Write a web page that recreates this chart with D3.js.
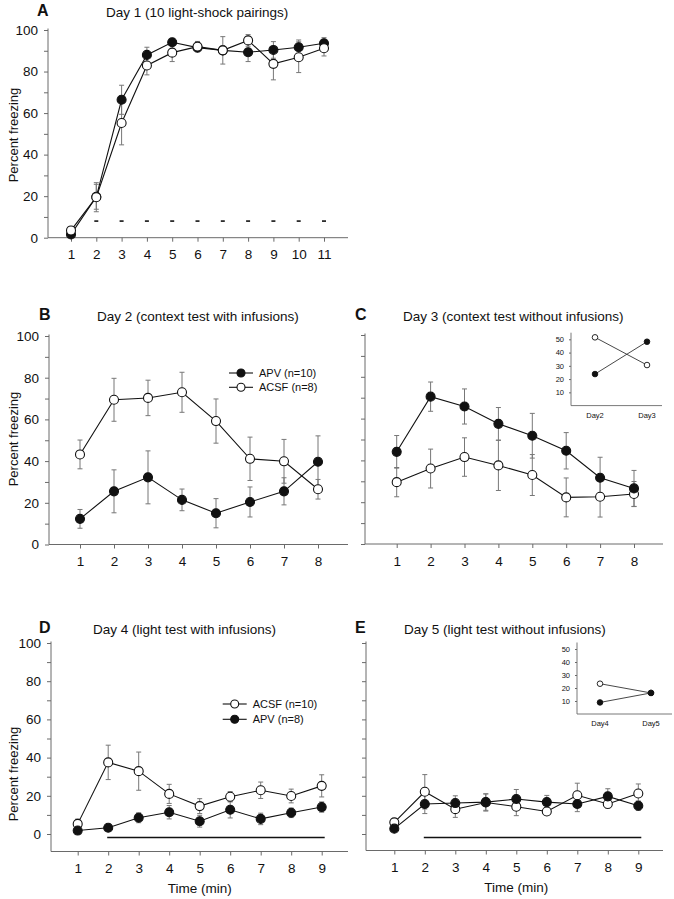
<!DOCTYPE html>
<html><head><meta charset="utf-8">
<script src="https://cdn.jsdelivr.net/npm/d3@7"></script>
<style>body{margin:0;background:#fff}</style>
</head><body><svg id="c" width="674" height="899"></svg>
<script>
// ---------- DATA ----------
const trialsA = [1,2,3,4,5,6,7,8,9,10,11];
const apvA = [1.6, 19.7, 66.4, 88, 94.1, 91.5, 90.2, 89.3, 90.4, 91.7, 93.6];
const apvAErr = [1, 6, 7, 3.7, 1.5, 1.5, 2, 4.5, 4, 3.5, 2.7];
const acsfA = [3.5, 19.5, 55.2, 82.9, 89.1, 92, 90.2, 95, 83.7, 86.9, 91.2];
const acsfAErr = [1.5, 7, 10.5, 4.5, 4.3, 2.5, 6.6, 2.8, 7.7, 7.4, 3.7];
const shockTrials = [2,3,4,5,6,7,8,9,10,11];
const shockLevel = 8;

const minutesBC = [1,2,3,4,5,6,7,8];
const apvB = [12.3, 25.5, 32.2, 21.4, 15, 20.4, 25.5, 39.7];
const apvBErr = [4.5, 10.3, 12.7, 5.2, 7, 7.2, 6.5, 12.4];
const acsfB = [43.2, 69.4, 70.3, 73, 59.2, 41.1, 39.9, 26.5];
const acsfBErr = [6.9, 10.3, 8.5, 9.6, 10.6, 10.4, 10.5, 4.7];

const apvC = [44.1, 70.5, 65.8, 57.5, 51.8, 44.6, 31.7, 26.6];
const apvCErr = [7.8, 7, 8.4, 7.8, 10.7, 8.7, 9.8, 8.6];
const acsfC = [29.6, 36.1, 41.6, 37.6, 33, 22.3, 22.6, 23.9];
const acsfCErr = [7, 9.3, 9.2, 12, 9.8, 9.3, 9.7, 6];

const insetCDays = ["Day2", "Day3"];
const insetCApv = [23.8, 48.2];
const insetCAcsf = [51.5, 30.6];

const minutesDE = [1,2,3,4,5,6,7,8,9];
const acsfD = [5.3, 37.5, 32.9, 21, 14.6, 19.5, 22.9, 19.9, 25.2];
const acsfDErr = [2.5, 9, 10, 5, 3.9, 2.7, 4.3, 3.6, 5.8];
const apvD = [1.8, 3.3, 8.5, 11.4, 6.7, 12.7, 7.9, 11.1, 14.1];
const apvDErr = [1, 1, 2.6, 3.5, 3.1, 4.3, 3, 2.5, 2.7];

const apvE = [2.8, 15.7, 16.2, 16.7, 18.3, 16.7, 15.7, 19.7, 14.8];
const apvEErr = [1, 5, 3.8, 4.3, 5, 3.5, 4, 4, 2.5];
const acsfE = [6.1, 22.1, 13, 16.5, 14.3, 11.8, 20.3, 15.7, 21.2];
const acsfEErr = [1.7, 9, 4.3, 4.5, 4.7, 2, 6.3, 2.3, 5];

const insetEDays = ["Day4", "Day5"];
const insetEApv = [8.9, 16.2];
const insetEAcsf = [23.3, 16.2];

const lightBar = [2, 9]; // light on period (min)
const lightLevel = -1.8;

const yTickValues = [0,10,20,30,40,50,60,70,80,90,100];
const insetTicks = [10,20,30,40,50];

// ---------- DRAW ----------
const FONT = '"Liberation Sans", Arial, Helvetica, sans-serif';
const AX = "#6a6a6a", ERR = "#777", INK = "#111";
const svg = d3.select("#c").attr("font-family", FONT);

function drawPanel(p) {
  const g = svg.append("g");
  const x = d3.scaleLinear().domain([1, p.xs.length]).range([p.xFirst, p.xLast]);
  const y = d3.scaleLinear().domain([0, 100]).range([p.y0, p.y100]);

  g.append("line").attr("x1", p.axX).attr("x2", p.axX).attr("y1", p.axY).attr("y2", p.y100 - 1.5)
    .attr("stroke", AX).attr("stroke-width", 1);
  g.append("line").attr("x1", p.axX).attr("x2", p.xEnd).attr("y1", p.axY).attr("y2", p.axY)
    .attr("stroke", AX).attr("stroke-width", 1);

  const ya = g.append("g").attr("transform", `translate(${p.axX},0)`)
    .call(d3.axisLeft(y).tickValues(yTickValues).tickSize(4).tickPadding(6)
      .tickFormat(d => p.yLabels && d % 20 === 0 ? d : ""));
  ya.select(".domain").remove();
  ya.attr("font-family", FONT).attr("font-size", 13.5);
  ya.selectAll("line").attr("stroke", AX);
  ya.selectAll("text").attr("fill", INK);

  const xa = g.append("g").attr("transform", `translate(0,${p.axY})`)
    .call(d3.axisBottom(x).tickValues(p.xs).tickSize(4).tickPadding(8).tickFormat(d3.format("d")));
  xa.select(".domain").remove();
  xa.attr("font-family", FONT).attr("font-size", 13.5);
  xa.selectAll("line").attr("stroke", AX);
  xa.selectAll("text").attr("fill", INK);

  g.append("text").attr("x", p.letterX).attr("y", p.titleY - 1).text(p.letter)
    .attr("font-weight", "bold").attr("font-size", 16).attr("fill", INK);
  g.append("text").attr("x", p.titleX).attr("y", p.titleY).text(p.title)
    .attr("font-size", 13.5).attr("fill", INK);
  if (p.yTitle) {
    g.append("text").attr("transform", `translate(18,${p.yTitleY}) rotate(-90)`)
      .attr("text-anchor", "middle").attr("font-size", 13).attr("fill", INK).text("Percent freezing");
  }
  if (p.xTitle) {
    g.append("text").attr("x", x((1 + p.xs.length) / 2)).attr("y", p.axY + 41)
      .attr("text-anchor", "middle").attr("font-size", 13.5).attr("fill", INK).text("Time (min)");
  }

  if (p.dashes) {
    g.selectAll(".dash").data(p.dashes.xs).join("line")
      .attr("x1", d => x(d) - 2).attr("x2", d => x(d) + 2)
      .attr("y1", y(p.dashes.level)).attr("y2", y(p.dashes.level))
      .attr("stroke", INK).attr("stroke-width", 1.6);
  }
  if (p.bar) {
    g.append("line").attr("x1", x(p.bar.from) - 1).attr("x2", x(p.bar.to) + 3)
      .attr("y1", y(p.bar.level)).attr("y2", y(p.bar.level))
      .attr("stroke", INK).attr("stroke-width", 1.5);
  }

  const line = d3.line().x((d, i) => x(p.xs[i])).y(d => y(d));
  p.series.forEach(s => {
    const eg = g.append("g");
    s.values.forEach((v, i) => {
      const cx = x(p.xs[i]), lo = y(v - s.err[i]), hi = y(v + s.err[i]);
      eg.append("line").attr("x1", cx).attr("x2", cx).attr("y1", lo).attr("y2", hi).attr("stroke", ERR);
      eg.append("line").attr("x1", cx - 2.5).attr("x2", cx + 2.5).attr("y1", lo).attr("y2", lo).attr("stroke", ERR);
      eg.append("line").attr("x1", cx - 2.5).attr("x2", cx + 2.5).attr("y1", hi).attr("y2", hi).attr("stroke", ERR);
    });
  });
  p.series.forEach(s => {
    g.append("path").attr("d", line(s.values)).attr("fill", "none").attr("stroke", INK).attr("stroke-width", 1.1);
  });
  p.series.forEach(s => {
    g.selectAll(null).data(s.values).join("circle")
      .attr("cx", (d, i) => x(p.xs[i])).attr("cy", d => y(d)).attr("r", 4.5)
      .attr("fill", s.filled ? INK : "#fff").attr("stroke", INK).attr("stroke-width", 1.1);
  });

  if (p.legend) {
    p.legend.items.forEach((it, k) => {
      const ly = p.legend.y + k * p.legend.dy;
      g.append("line").attr("x1", p.legend.x).attr("x2", p.legend.x + 24).attr("y1", ly).attr("y2", ly)
        .attr("stroke", INK).attr("stroke-width", 1.1);
      g.append("circle").attr("cx", p.legend.x + 12).attr("cy", ly).attr("r", 4)
        .attr("fill", it.filled ? INK : "#fff").attr("stroke", INK).attr("stroke-width", 1.1);
      g.append("text").attr("x", p.legend.x + 30).attr("y", ly + 4).attr("font-size", 11)
        .attr("fill", INK).text(it.label);
    });
  }
}

function drawInset(p) {
  const g = svg.append("g");
  const x = d3.scalePoint().domain(p.days).range([p.xa, p.xb]);
  const y = d3.scaleLinear().domain([0, 55]).range([p.y0, p.yTop]);
  g.append("line").attr("x1", p.axX).attr("x2", p.axX).attr("y1", p.y0).attr("y2", p.yTop)
    .attr("stroke", AX).attr("stroke-width", 0.9);
  g.append("line").attr("x1", p.axX).attr("x2", p.xEnd).attr("y1", p.y0).attr("y2", p.y0)
    .attr("stroke", AX).attr("stroke-width", 0.9);
  const ya = g.append("g").attr("transform", `translate(${p.axX},0)`)
    .call(d3.axisLeft(y).tickValues(insetTicks).tickSize(2).tickPadding(5));
  ya.select(".domain").remove();
  ya.attr("font-family", FONT).attr("font-size", 7.5);
  ya.selectAll("line").attr("stroke", AX);
  ya.selectAll("text").attr("fill", INK);
  g.selectAll(null).data(p.days).join("text")
    .attr("x", d => x(d)).attr("y", p.y0 + 12).attr("text-anchor", "middle")
    .attr("font-size", 7.5).attr("fill", INK).text(d => d);
  const line = d3.line().x((d, i) => x(p.days[i])).y(d => y(d));
  p.series.forEach(s => {
    g.append("path").attr("d", line(s.values)).attr("fill", "none").attr("stroke", "#333").attr("stroke-width", 0.9);
  });
  p.series.forEach(s => {
    g.selectAll(null).data(s.values).join("circle")
      .attr("cx", (d, i) => x(p.days[i])).attr("cy", d => y(d)).attr("r", 2.8)
      .attr("fill", s.filled ? INK : "#fff").attr("stroke", INK).attr("stroke-width", 0.9);
  });
}

// Panel A
drawPanel({
  xs: trialsA, xFirst: 71, xLast: 324, y0: 237.7, y100: 30, axX: 48, axY: 237.7, xEnd: 348,
  yLabels: true, yTitle: true, yTitleY: 135, letter: "A", letterX: 37, title: "Day 1 (10 light-shock pairings)",
  titleX: 106, titleY: 17,
  dashes: { xs: shockTrials, level: shockLevel },
  series: [
    { values: apvA, err: apvAErr, filled: true },
    { values: acsfA, err: acsfAErr, filled: false }
  ]
});

// Panel B
drawPanel({
  xs: minutesBC, xFirst: 80, xLast: 318, y0: 544.5, y100: 336, axX: 49, axY: 544.5, xEnd: 348,
  yLabels: true, yTitle: true, yTitleY: 439, letter: "B", letterX: 39, title: "Day 2 (context test with infusions)",
  titleX: 97, titleY: 321,
  series: [
    { values: acsfB, err: acsfBErr, filled: false },
    { values: apvB, err: apvBErr, filled: true }
  ],
  legend: { x: 229, y: 373, dy: 14.3, items: [
    { label: "APV (n=10)", filled: true }, { label: "ACSF (n=8)", filled: false }] }
});

// Panel C
drawPanel({
  xs: minutesBC, xFirst: 396.7, xLast: 634, y0: 544, y100: 335, axX: 365, axY: 544, xEnd: 663,
  yLabels: false, yTitle: false, letter: "C", letterX: 355, title: "Day 3 (context test without infusions)",
  titleX: 403, titleY: 321,
  series: [
    { values: acsfC, err: acsfCErr, filled: false },
    { values: apvC, err: apvCErr, filled: true }
  ]
});
drawInset({
  days: insetCDays, xa: 595, xb: 647, axX: 571, xEnd: 662, y0: 405.6, yTop: 332.7,
  series: [ { values: insetCAcsf, filled: false }, { values: insetCApv, filled: true } ]
});

// Panel D
drawPanel({
  xs: minutesDE, xFirst: 77.7, xLast: 321.7, y0: 834, y100: 643, axX: 51, axY: 851.5, xEnd: 348,
  yLabels: true, yTitle: true, yTitleY: 774, xTitle: true, letter: "D", letterX: 39,
  title: "Day 4 (light test with infusions)", titleX: 93, titleY: 634,
  bar: { from: lightBar[0], to: lightBar[1], level: lightLevel },
  series: [
    { values: acsfD, err: acsfDErr, filled: false },
    { values: apvD, err: apvDErr, filled: true }
  ],
  legend: { x: 222.7, y: 704, dy: 15.3, items: [
    { label: "ACSF (n=10)", filled: false }, { label: "APV (n=8)", filled: true }] }
});

// Panel E
drawPanel({
  xs: minutesDE, xFirst: 394.3, xLast: 638.3, y0: 834, y100: 643, axX: 366, axY: 850.5, xEnd: 663,
  yLabels: false, yTitle: false, xTitle: true, letter: "E", letterX: 355,
  title: "Day 5 (light test without infusions)", titleX: 404, titleY: 634,
  bar: { from: lightBar[0], to: lightBar[1], level: lightLevel },
  series: [
    { values: acsfE, err: acsfEErr, filled: false },
    { values: apvE, err: apvEErr, filled: true }
  ]
});
drawInset({
  days: insetEDays, xa: 600, xb: 651, axX: 577, xEnd: 672, y0: 714, yTop: 642.5,
  series: [ { values: insetEAcsf, filled: false }, { values: insetEApv, filled: true } ]
});
</script>
</body></html>
